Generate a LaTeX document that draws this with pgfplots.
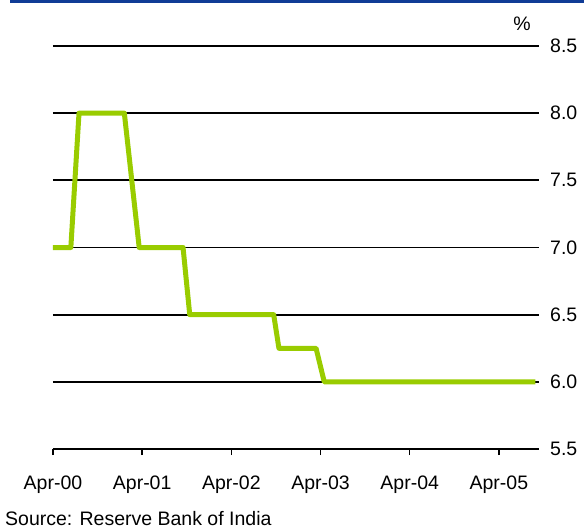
\documentclass[border=0pt]{standalone}
\usepackage{fontspec}
\setmainfont{Liberation Sans}
\usepackage{pgfplots}
\pgfplotsset{compat=1.18}
\usetikzlibrary{calc}
\definecolor{barblue}{RGB}{16,60,150}
\definecolor{limeline}{RGB}{153,204,0}
\begin{document}
\fontsize{19.5}{23}\selectfont
\begin{tikzpicture}[x=1pt,y=1pt]
\begin{axis}[
  scale only axis,
  width=486pt, height=403pt,
  xmin=0, xmax=65.4, ymin=5.5, ymax=8.5,
  clip=false,
  axis x line*=bottom,
  axis y line*=right,
  y axis line style={draw=none},
  x axis line style={black, line width=1.8pt},
  xtick={0,12,24,36,48,60},
  xticklabels={Apr-00,Apr-01,Apr-02,Apr-03,Apr-04,Apr-05},
  ytick={5.5,6,6.5,7,7.5,8,8.5},
  ymajorgrids,
  grid style={black, line width=1.8pt},
  tick align=outside,
  major tick length=6pt,
  xtick style={black, line width=1.5pt},
  ytick style={draw=none},
  tick label style={font=\fontsize{19.5}{23}\selectfont, /pgf/number format/assume math mode=true},
  yticklabel style={/pgf/number format/fixed, /pgf/number format/fixed zerofill, /pgf/number format/precision=1},
  yticklabel style={anchor=west, inner sep=0pt, xshift=5pt},
  xticklabel style={anchor=north, inner sep=0pt, yshift=-21pt},
]
\addplot[limeline, line width=5pt, line join=round] coordinates {
(0,7) (2.4,7) (3.5,8) (9.6,8) (11.6,7) (17.5,7) (18.4,6.5) (29.7,6.5) (30.4,6.25) (35.4,6.25) (36.5,6) (64.9,6)
};
\coordinate (O) at (rel axis cs:0,0);
\end{axis}
\pgfresetboundingbox
\begin{scope}[shift={($(O)+(-53pt,-79pt)$)}]
\path[use as bounding box] (0,0) rectangle (584,528);
\fill[barblue] (10,524.5) rectangle (584,528);
\node at (522,504) {\%};
\node[anchor=base west, inner sep=0pt] at (5,3) {Source: Reserve Bank of India};
\end{scope}
\end{tikzpicture}
\end{document}
